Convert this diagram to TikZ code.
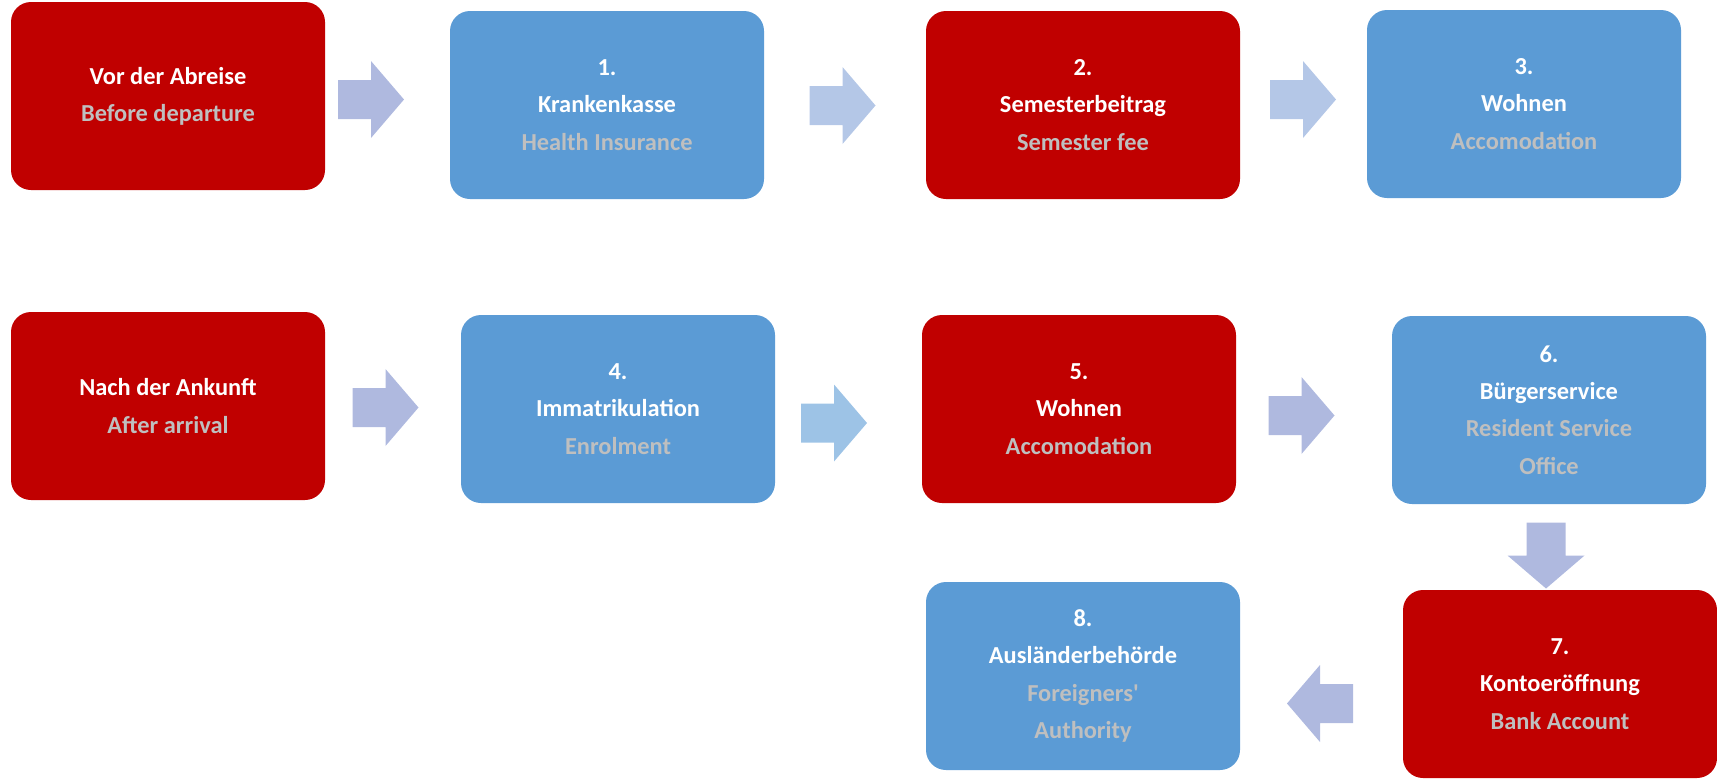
\documentclass[tikz,border=0pt]{standalone}
\usepackage{fontspec}
\setmainfont{Carlito}

\definecolor{boxred}{HTML}{C00000}
\definecolor{boxblue}{HTML}{5B9BD5}
\definecolor{subgrey}{HTML}{BFBFBF}
\definecolor{arrlav}{HTML}{AFB9DF}
\definecolor{arrsky}{HTML}{B4C7E7}
\definecolor{arrpale}{HTML}{9DC3E6}

% block arrow: colour, centre, rotation
\newcommand{\blockarrow}[3]{%
  \fill[#1,shift={#2},rotate=#3] (-33,-19.5) -- (0,-19.5) -- (0,-38.5) -- (33,0) -- (0,38.5) -- (0,19.5) -- (-33,19.5) -- cycle;}
\newcommand{\engl}[1]{{\color{subgrey}#1}}

\begin{document}
\begin{tikzpicture}[x=0.5pt,y=-0.5pt,
    stepbox/.style={rounded corners=10pt,minimum width=157pt,minimum height=94pt,
      inner sep=0pt,align=center,text=white,font=\fontsize{12.2}{18.6}\selectfont\bfseries},
    redbox/.style={stepbox,fill=boxred},
    bluebox/.style={stepbox,fill=boxblue}]
\useasboundingbox (0,0) rectangle (1717,778);

\node[redbox] (pre) at (168,96) {Vor der Abreise\\\engl{Before departure}};
\node[bluebox] (k1) at (607,105) {1.\\Krankenkasse\\\engl{Health Insurance}};
\node[redbox] (k2) at (1083,105) {2.\\Semesterbeitrag\\\engl{Semester fee}};
\node[bluebox] (k3) at (1524,104) {3.\\Wohnen\\\engl{Accomodation}};

\node[redbox] (post) at (168,406) {Nach der Ankunft\\\engl{After arrival}};
\node[bluebox] (k4) at (618,409) {4.\\Immatrikulation\\\engl{Enrolment}};
\node[redbox] (k5) at (1079,409) {5.\\Wohnen\\\engl{Accomodation}};
\node[bluebox] (k6) at (1549,410) {6.\\Bürgerservice\\\engl{Resident Service}\\\engl{Office}};

\node[redbox] (k7) at (1560,684) {7.\\Kontoeröffnung\\\engl{Bank Account}};
\node[bluebox] (k8) at (1083,676) {8.\\Ausländerbehörde\\\engl{Foreigners\textquotesingle}\\\engl{Authority}};

\blockarrow{arrlav}{(371,99.5)}{0}
\blockarrow{arrsky}{(842.5,105.5)}{0}
\blockarrow{arrsky}{(1303,99.5)}{0}
\blockarrow{arrlav}{(385.5,407.5)}{0}
\blockarrow{arrpale}{(834,423)}{0}
\blockarrow{arrlav}{(1301.5,415.5)}{0}
\blockarrow{arrlav}{(1546,555.5)}{-90}
\blockarrow{arrlav}{(1320,703.5)}{180}
\end{tikzpicture}
\end{document}
